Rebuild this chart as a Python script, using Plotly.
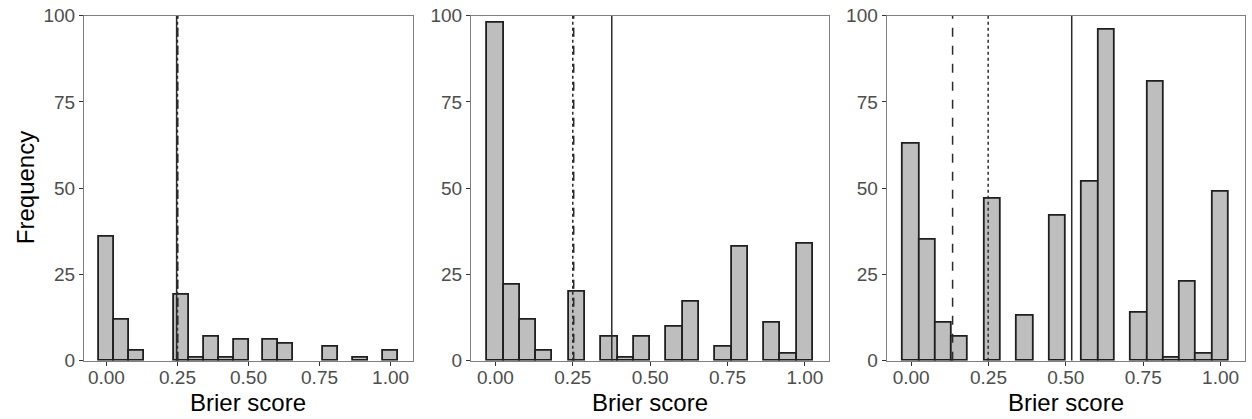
import plotly.graph_objects as go

# Histogram bins (ggplot bins=20 over [0, 1])
bin_width = 1 / 19
bin_centers = [i * bin_width for i in range(20)]

counts_a = [36, 12, 3, 0, 0, 19, 1, 7, 1, 6, 0, 6, 5, 0, 0, 4, 0, 1, 0, 3]
counts_b = [98, 22, 12, 3, 0, 20, 0, 7, 1, 7, 0, 10, 17, 0, 4, 33, 0, 11, 2, 34]
counts_c = [63, 35, 11, 7, 0, 47, 0, 13, 0, 42, 0, 52, 96, 0, 14, 81, 1, 23, 2, 49]

# Reference lines per panel: solid, dashed, dotted
solid_vals = [0.247, 0.376, 0.519]
dashed_vals = [0.251, 0.253, 0.134]
dotted_vals = [0.25, 0.25, 0.249]

x_ticks = [0, 0.25, 0.5, 0.75, 1.0]
x_tick_labels = ["0.00", "0.25", "0.50", "0.75", "1.00"]
y_ticks = [0, 25, 50, 75, 100]
y_tick_labels = ["0", "25", "50", "75", "100"]

W, H = 1252, 419


def px_x(x):
    return x / W


def px_y(y):
    return 1 - y / H


x_px = [(84, 413), (471, 829.3), (886.7, 1245)]
x_domains = [(px_x(a), px_x(b)) for a, b in x_px]
y_domain = (px_y(360.7), px_y(15.7))

fig = go.Figure()
all_counts = [counts_a, counts_b, counts_c]
font_family = "Liberation Sans, Arial, sans-serif"
line_col = "#2b2b2b"

for i, counts in enumerate(all_counts):
    xa = "x" if i == 0 else f"x{i+1}"
    ya = "y" if i == 0 else f"y{i+1}"
    nz_x = [c for c, v in zip(bin_centers, counts) if v > 0]
    nz_y = [v for v in counts if v > 0]
    fig.add_trace(go.Bar(
        x=nz_x, y=nz_y, width=bin_width, xaxis=xa, yaxis=ya,
        marker=dict(color="#BEBEBE", line=dict(color="#1f1f1f", width=1.8)),
        showlegend=False, hoverinfo="x+y",
    ))
    for val, dash in [(dotted_vals[i], "dot"), (dashed_vals[i], "dash"), (solid_vals[i], "solid")]:
        fig.add_trace(go.Scatter(
            x=[val, val], y=[0, 100], mode="lines", xaxis=xa, yaxis=ya,
            line=dict(color=line_col, width=1.5, dash=dash),
            showlegend=False, hoverinfo="skip",
        ))

layout = dict(
    width=W, height=H,
    margin=dict(l=0, r=0, t=0, b=0, autoexpand=False),
    paper_bgcolor="white", plot_bgcolor="white",
    font=dict(family=font_family),
    bargap=0,
)

tick_font = dict(size=19, color="#4D4D4D", family=font_family)
title_font = dict(size=24, color="black", family=font_family)

annotations = []
for i in range(3):
    sx = "" if i == 0 else str(i + 1)
    layout[f"xaxis{sx}"] = dict(
        domain=list(x_domains[i]), anchor=f"y{sx}",
        range=[-0.0789, 1.0789],
        tickvals=x_ticks, ticktext=x_tick_labels,
        ticks="outside", ticklen=4, tickcolor="#333333", tickwidth=1,
        tickfont=tick_font, automargin=False,
        ticklabelstandoff=-5, ticklabeloverflow="allow",
        showgrid=False, zeroline=False,
        showline=True, linecolor="#7F7F7F", linewidth=1.2, mirror=True,
        fixedrange=True,
    )
    layout[f"yaxis{sx}"] = dict(
        domain=list(y_domain), anchor=f"x{sx}",
        range=[0, 100],
        tickvals=y_ticks, ticktext=y_tick_labels,
        ticks="outside", ticklen=4, tickcolor="#333333", tickwidth=1,
        tickfont=tick_font, automargin=False,
        ticklabeloverflow="allow",
        showgrid=False, zeroline=False,
        showline=True, linecolor="#7F7F7F", linewidth=1.2, mirror=True,
        fixedrange=True,
    )
    annotations.append(dict(
        text="Brier score", xref="paper", yref="paper",
        x=(x_domains[i][0] + x_domains[i][1]) / 2, y=px_y(402),
        xanchor="center", yanchor="middle", showarrow=False, font=title_font,
    ))

annotations.append(dict(
    text="Frequency", xref="paper", yref="paper",
    x=px_x(25), y=(y_domain[0] + y_domain[1]) / 2,
    xanchor="center", yanchor="middle", textangle=-90, showarrow=False, font=title_font,
))
layout["annotations"] = annotations

fig.update_layout(**layout)
fig.write_html(
    "out.html",
    config={"displayModeBar": False},
    post_script="document.body.style.margin='0px';document.body.style.overflow='hidden';",
)
